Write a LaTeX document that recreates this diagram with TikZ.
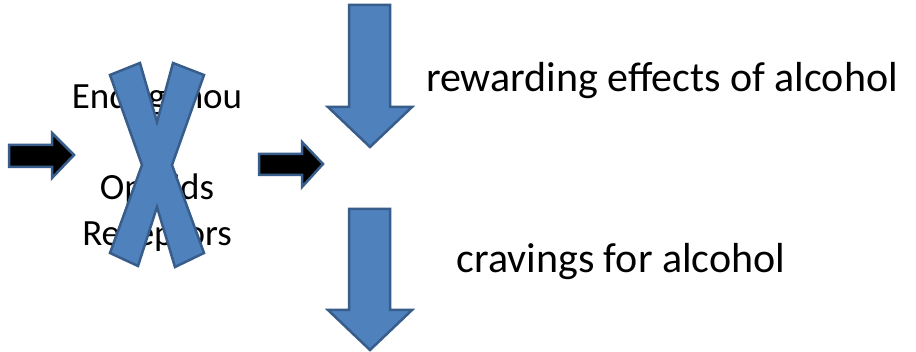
\documentclass[tikz,border=0pt]{standalone}
\usepackage{fontspec}
\setmainfont{Carlito}
\definecolor{azulrelleno}{RGB}{79,129,189}
\definecolor{azulborde}{RGB}{56,93,138}
\definecolor{negro}{RGB}{0,0,0}
\definecolor{blanco}{RGB}{255,255,255}

\begin{document}
\begin{tikzpicture}[x=1pt, y=-1pt,
    flecha/.style={draw=azulborde, line width=2.5pt, line join=miter, fill=azulrelleno},
    flechanegra/.style={draw=azulborde, line width=2.5pt, line join=miter, fill=negro},
    texto/.style={font=\fontsize{42}{50}\selectfont, inner sep=0pt},
    textocruz/.style={font=\fontsize{37}{45.5}\selectfont, inner sep=0pt, align=center}]
    \useasboundingbox[fill=blanco] (0,0) rectangle (916,352);

    % texto tapado por la cruz
    \node[textocruz] (receptores) at (157,167) {Endogenou\\s\\Opioids\\Receptors};

    % la cruz
    \draw[flecha] (110,75) -- (140,63) -- (157,122) -- (173,63) -- (204,75) -- (172,165)
      -- (204,253) -- (175,267) -- (157,207) -- (138,266) -- (110,253) -- (142,165) -- cycle;

    % flechas negras
    \draw[flechanegra] (9,145) -- (52,145) -- (52,133) -- (74,155) -- (52,178) -- (52,167) -- (9,167) -- cycle;
    \draw[flechanegra] (259,154) -- (302,154) -- (302,142) -- (323,164) -- (302,187) -- (302,175) -- (259,175) -- cycle;

    % flechas hacia abajo
    \draw[flecha] (349,5) -- (390,5) -- (390,107) -- (412,107) -- (370,147) -- (328,107) -- (349,107) -- cycle;
    \draw[flecha] (349,209) -- (390,209) -- (390,310) -- (412,310) -- (370,350) -- (328,310) -- (349,310) -- cycle;

    % textos
    \node[texto, anchor=base] (recompensa) at (662,92) {rewarding effects of alcohol};
    \node[texto, anchor=base] (ansia) at (621,273) {cravings for alcohol};
\end{tikzpicture}
\end{document}
